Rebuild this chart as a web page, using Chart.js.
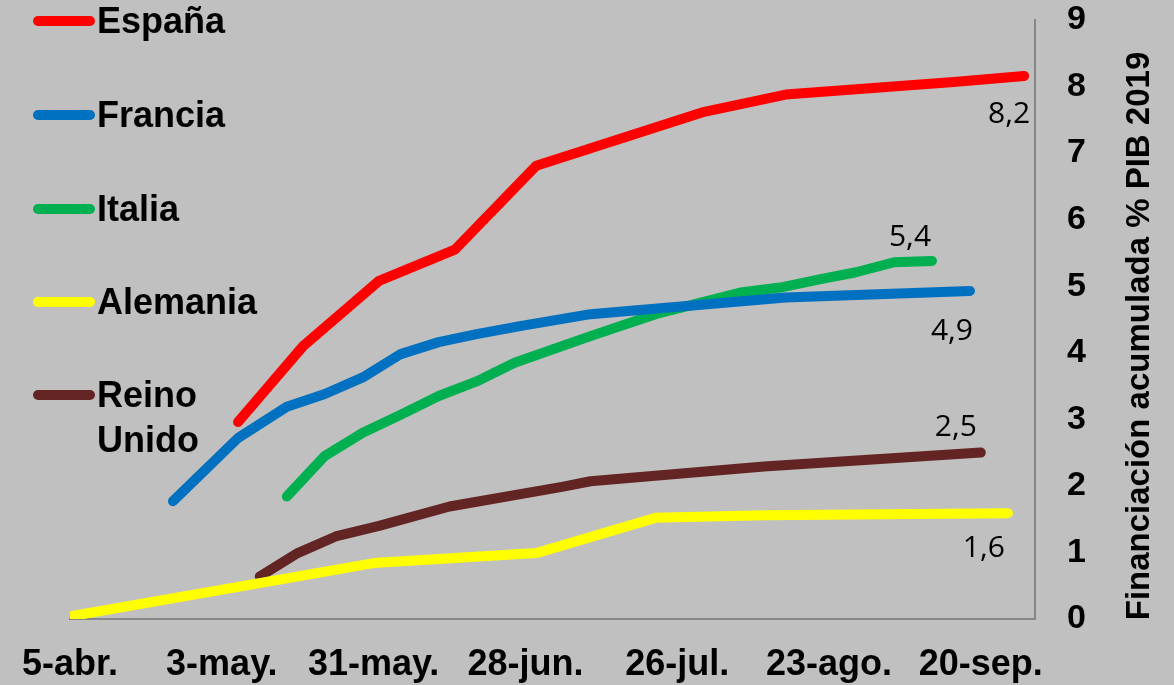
<!DOCTYPE html>
<html><head><meta charset="utf-8">
<script src="https://cdn.jsdelivr.net/npm/chart.js@4.4.1/dist/chart.umd.min.js"></script>
<style>html,body{margin:0;padding:0;background:#c0c0c0;overflow:hidden}#wrap{width:1174px;height:685px;position:relative}</style>
</head><body><div id="wrap"><canvas id="c" width="1174" height="685" style="width:1174px;height:685px"></canvas></div>
<script>
// x values: days since 5-abr.
const tickDays = [0, 28, 56, 84, 112, 140, 168];
const tickLabels = ['5-abr.', '3-may.', '31-may.', '28-jun.', '26-jul.', '23-ago.', '20-sep.'];
const seriesNames = ['España', 'Francia', 'Italia', 'Alemania', 'Reino Unido'];

const espanaDays = [31, 43, 57, 71, 86, 117, 132, 163, 176];
const espanaVals = [2.96, 4.10, 5.08, 5.55, 6.81, 7.62, 7.88, 8.07, 8.16];

const franciaDays = [19, 31, 40, 47, 54, 61, 68, 75, 83, 96, 132, 166];
const franciaVals = [1.77, 2.72, 3.19, 3.38, 3.63, 3.98, 4.16, 4.28, 4.40, 4.58, 4.83, 4.93];

const italiaDays = [40, 47, 54, 61, 68, 75, 82, 96, 108, 124, 131, 138, 145, 152, 159];
const italiaVals = [1.84, 2.45, 2.80, 3.07, 3.35, 3.57, 3.85, 4.25, 4.58, 4.91, 4.98, 5.10, 5.21, 5.36, 5.38];

const alemaniaDays = [0, 56, 86, 108, 128, 173];
const alemaniaVals = [0.04, 0.84, 0.99, 1.52, 1.56, 1.59];

const reinoDays = [35, 42, 49, 57, 70, 91, 96, 128, 168];
const reinoVals = [0.64, 0.99, 1.24, 1.40, 1.69, 1.99, 2.07, 2.29, 2.50];

const colors = ['#FF0000', '#0070C0', '#00B050', '#FFFF00', '#632523'];
const allDays = [espanaDays, franciaDays, italiaDays, alemaniaDays, reinoDays];
const allVals = [espanaVals, franciaVals, italiaVals, alemaniaVals, reinoVals];

const datasets = seriesNames.map((name, i) => ({
  label: name,
  data: allDays[i].map((d, j) => ({ x: d, y: allVals[i][j] })),
  borderColor: colors[i],
  backgroundColor: colors[i],
  borderWidth: 10,
  borderCapStyle: 'round',
  borderJoinStyle: 'round',
  pointRadius: 0,
  pointHoverRadius: 0,
  tension: 0,
  fill: false,
  clip: 0
}));

const FONT = '"Liberation Sans", Arial, sans-serif';

const bgPlugin = {
  id: 'bg',
  beforeDraw(chart) {
    const ctx = chart.ctx;
    ctx.save();
    ctx.fillStyle = '#C0C0C0';
    ctx.fillRect(0, 0, chart.width, chart.height);
    ctx.restore();
  }
};

const legendPlugin = {
  id: 'customLegend',
  afterDraw(chart, args, opts) {
    const ctx = chart.ctx;
    ctx.save();
    chart.data.datasets.forEach((ds, i) => {
      const y = opts.rows[i];
      ctx.strokeStyle = ds.borderColor;
      ctx.lineWidth = 10;
      ctx.lineCap = 'round';
      ctx.beginPath();
      ctx.moveTo(opts.x1, y);
      ctx.lineTo(opts.x2, y);
      ctx.stroke();
      ctx.fillStyle = '#000';
      ctx.font = 'bold 36px ' + FONT;
      ctx.textAlign = 'left';
      ctx.textBaseline = 'middle';
      const parts = ds.label.split(' ');
      parts.forEach((p, k) => ctx.fillText(p, opts.textX, y + 2 + k * opts.lineGap));
    });
    ctx.restore();
  }
};

const endLabelPlugin = {
  id: 'endLabels',
  afterDatasetsDraw(chart, args, opts) {
    const ctx = chart.ctx;
    ctx.save();
    ctx.fillStyle = '#000';
    ctx.font = '30px "Open Sans", sans-serif';
    ctx.textAlign = 'center';
    ctx.textBaseline = 'middle';
    chart.data.datasets.forEach((ds, i) => {
      const meta = chart.getDatasetMeta(i);
      const pt = meta.data[meta.data.length - 1];
      const v = ds.data[ds.data.length - 1].y;
      const off = opts.offsets[i];
      ctx.fillText(v.toFixed(1).replace('.', ','), pt.x + off[0], pt.y + off[1]);
    });
    ctx.restore();
  }
};

const titlePlugin = {
  id: 'yTitle',
  afterDraw(chart, args, opts) {
    const ctx = chart.ctx;
    ctx.save();
    ctx.translate(opts.x, opts.y);
    ctx.rotate(-Math.PI / 2);
    ctx.fillStyle = '#000';
    ctx.font = 'bold 33px ' + FONT;
    ctx.textAlign = 'center';
    ctx.textBaseline = 'middle';
    ctx.fillText(opts.text, 0, 0);
    ctx.restore();
  }
};

new Chart(document.getElementById('c'), {
  type: 'line',
  data: { datasets },
  plugins: [bgPlugin, legendPlugin, endLabelPlugin, titlePlugin],
  options: {
    responsive: false,
    animation: false,
    devicePixelRatio: 1,
    layout: { padding: { left: 70, top: 20, right: 0, bottom: 0 } },
    plugins: {
      legend: { display: false },
      tooltip: { enabled: false },
      customLegend: { rows: [21, 115, 209, 302, 395], x1: 38, x2: 90, textX: 97, lineGap: 45 },
      endLabels: { offsets: [[-15, 39], [-18, 41], [-22, -23], [-24, 35], [-25, -25]] },
      yTitle: { text: 'Financiación acumulada % PIB 2019', x: 1140, y: 336 }
    },
    scales: {
      x: {
        type: 'linear',
        min: 0,
        max: 178,
        grid: { display: false, drawTicks: false },
        border: { display: true, color: '#868686', width: 2 },
        afterBuildTicks: s => { s.ticks = tickDays.map(v => ({ value: v })); },
        afterFit: s => { s.height = 66; s.paddingLeft = 0; s.paddingRight = 0; },
        ticks: {
          autoSkip: false,
          maxRotation: 0,
          minRotation: 0,
          padding: 24,
          color: '#000',
          font: { family: FONT, size: 36, weight: 'bold' },
          callback: v => { const k = tickDays.indexOf(v); return k >= 0 ? tickLabels[k] : ''; }
        }
      },
      y: {
        position: 'right',
        min: 0,
        max: 9,
        grid: { display: false, drawTicks: false },
        border: { display: true, color: '#868686', width: 2 },
        afterFit: s => { s.width = 139; s.paddingTop = 0; s.paddingBottom = 0; },
        ticks: {
          stepSize: 1,
          padding: 32,
          color: '#000',
          font: { family: FONT, size: 34, weight: 'bold' }
        }
      }
    }
  }
});
</script>
</body></html>
